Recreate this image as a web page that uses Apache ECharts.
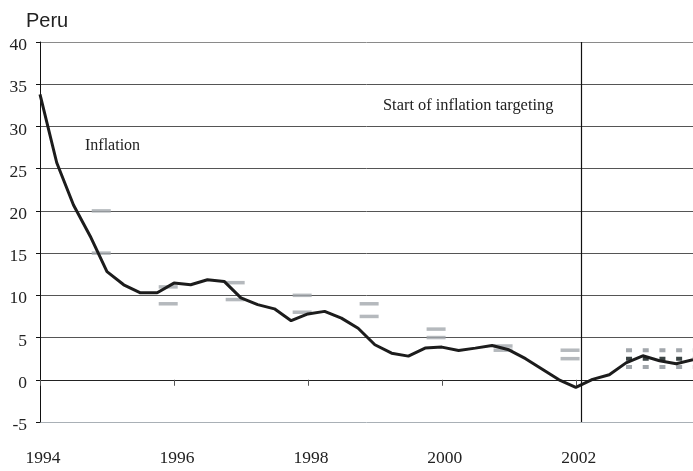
<!DOCTYPE html>
<html>
<head>
<meta charset="utf-8">
<script src="https://cdn.jsdelivr.net/npm/echarts@6/dist/echarts.min.js"></script>
<style>
  html, body { margin: 0; padding: 0; background: #fff; }
  #chart { width: 693px; height: 471px; }
</style>
</head>
<body>
<div id="chart"></div>
<script>
// quarterly CPI inflation, Peru (percent, y/y)
const quarters = [
  '1994Q1', '1994Q2', '1994Q3', '1994Q4', '1995Q1', '1995Q2', '1995Q3', '1995Q4',
  '1996Q1', '1996Q2', '1996Q3', '1996Q4', '1997Q1', '1997Q2', '1997Q3', '1997Q4',
  '1998Q1', '1998Q2', '1998Q3', '1998Q4', '1999Q1', '1999Q2', '1999Q3', '1999Q4',
  '2000Q1', '2000Q2', '2000Q3', '2000Q4', '2001Q1', '2001Q2', '2001Q3', '2001Q4',
  '2002Q1', '2002Q2', '2002Q3', '2002Q4', '2003Q1', '2003Q2', '2003Q3', '2003Q4'
]
const inflation = [
  33.8, 25.7, 20.7, 17.0, 12.8, 11.25, 10.3, 10.3,
  11.45, 11.25, 11.85, 11.65, 9.7, 8.9, 8.4, 7.0,
  7.8, 8.1, 7.3, 6.1, 4.15, 3.15, 2.8, 3.75,
  3.87, 3.47, 3.75, 4.06, 3.55, 2.5, 1.25, 0.0,
  -0.9, 0.05, 0.6, 2.0, 2.84, 2.25, 1.9, 2.37
]

// annual target ranges announced for each year end
const targetQuarters = ['1994Q4', '1995Q4', '1996Q4', '1997Q4', '1998Q4', '1999Q4', '2000Q4', '2001Q4']
const targetUpper = [20, 11, 11.5, 10, 9, 6, 4, 3.5]
const targetLower = [15, 9, 9.5, 8, 7.5, 5, 3.5, 2.5]

// inflation targeting band
const bandQuarters = ['2002Q4', '2003Q4']
const bandUpper = 3.5
const bandCentre = 2.5
const bandLower = 1.5

const itStart = 2002 + 1 / 12
const yTicks = [-5, 40, 5]

function qToYear(q) {
  return +q.slice(0, 4) + (+q.slice(5) - 1) / 4
}

const serif = 'Liberation Serif'
const chart = echarts.init(document.getElementById('chart'))

const lineData = quarters.map((q, i) => [qToYear(q), inflation[i]])
const upperData = targetQuarters.map((q, i) => [qToYear(q), targetUpper[i]])
const lowerData = targetQuarters.map((q, i) => [qToYear(q), targetLower[i]])
const bandLine = v => bandQuarters.map(q => [qToYear(q), v])

const dashStyle = {
  type: 'scatter',
  symbol: 'rect',
  symbolSize: [19, 3.5],
  symbolOffset: [11, 0],
  itemStyle: { color: '#a2a7ac' },
  silent: true,
  z: 3
}
const dotted = (v, color) => ({
  type: 'line',
  data: bandLine(v),
  symbol: 'none',
  lineStyle: { color: color, width: 4, type: [6, 10.7], cap: 'butt' },
  silent: true,
  z: 3
})

const option = {
  animation: false,
  backgroundColor: '#fff',
  grid: { left: 40, right: 0, top: 42, bottom: 49 },
  xAxis: [
    {
      type: 'value',
      min: qToYear(quarters[0]),
      max: qToYear(quarters[quarters.length - 1]),
      interval: 2,
      axisLine: { show: false, onZero: false },
      axisTick: { show: false },
      splitLine: { show: false },
      axisLabel: {
        fontFamily: serif, fontSize: 17.5, color: '#222',
        margin: 27, padding: [0, 0, 0, 6],
        showMaxLabel: false,
        formatter: v => String(v)
      }
    },
    {
      type: 'value',
      position: 'top',
      min: qToYear(quarters[0]),
      max: qToYear(quarters[quarters.length - 1]),
      interval: 2,
      axisLine: { show: true, onZero: true, lineStyle: { color: '#222', width: 1 } },
      axisTick: { show: true, inside: true, length: 6, lineStyle: { color: '#555' } },
      axisLabel: { show: false },
      splitLine: { show: false }
    }
  ],
  yAxis: {
    type: 'value',
    min: yTicks[0],
    max: yTicks[1],
    interval: yTicks[2],
    axisLine: { show: true, onZero: false, lineStyle: { color: '#111', width: 1 } },
    axisTick: { show: true, length: 4, lineStyle: { color: '#111' } },
    axisLabel: {
      margin: 13,
      formatter: v => '{n|' + v + '}',
      rich: {
        n: { fontFamily: serif, fontSize: 17.5, color: '#222', padding: [7, 0, 0, 0] }
      }
    },
    splitLine: {
      show: true,
      lineStyle: {
        width: 1,
        color: ['#a9b0b6', '#222', '#555', '#555', '#555', '#555', '#555', '#555', '#555', '#8a8a8a']
      }
    }
  },
  series: [
    {
      type: 'line',
      data: lineData,
      symbol: 'none',
      lineStyle: { color: '#1c1c1c', width: 3 },
      z: 4,
      markLine: {
        silent: true,
        symbol: 'none',
        label: { show: false },
        lineStyle: { color: '#111', width: 1.2, type: 'solid' },
        data: [{ xAxis: itStart }]
      }
    },
    Object.assign({ data: upperData }, dashStyle),
    Object.assign({ data: lowerData }, dashStyle),
    dotted(bandUpper, '#a2a7ac'),
    dotted(bandLower, '#a2a7ac'),
    dotted(bandCentre, '#3b4444')
  ],
  graphic: [
    {
      type: 'text', left: 26, top: 11,
      style: { text: 'Peru', font: '20px "Liberation Sans"', fill: '#222' }
    },
    {
      type: 'text', x: 85, y: 146,
      style: { text: 'Inflation', font: '16px "Liberation Serif"', fill: '#222', verticalAlign: 'middle' }
    },
    {
      type: 'text', x: 383, y: 106,
      style: { text: 'Start of inflation targeting', font: '16.4px "Liberation Serif"', fill: '#222', verticalAlign: 'middle' }
    }
  ]
}

chart.setOption(option)
</script>
</body>
</html>
